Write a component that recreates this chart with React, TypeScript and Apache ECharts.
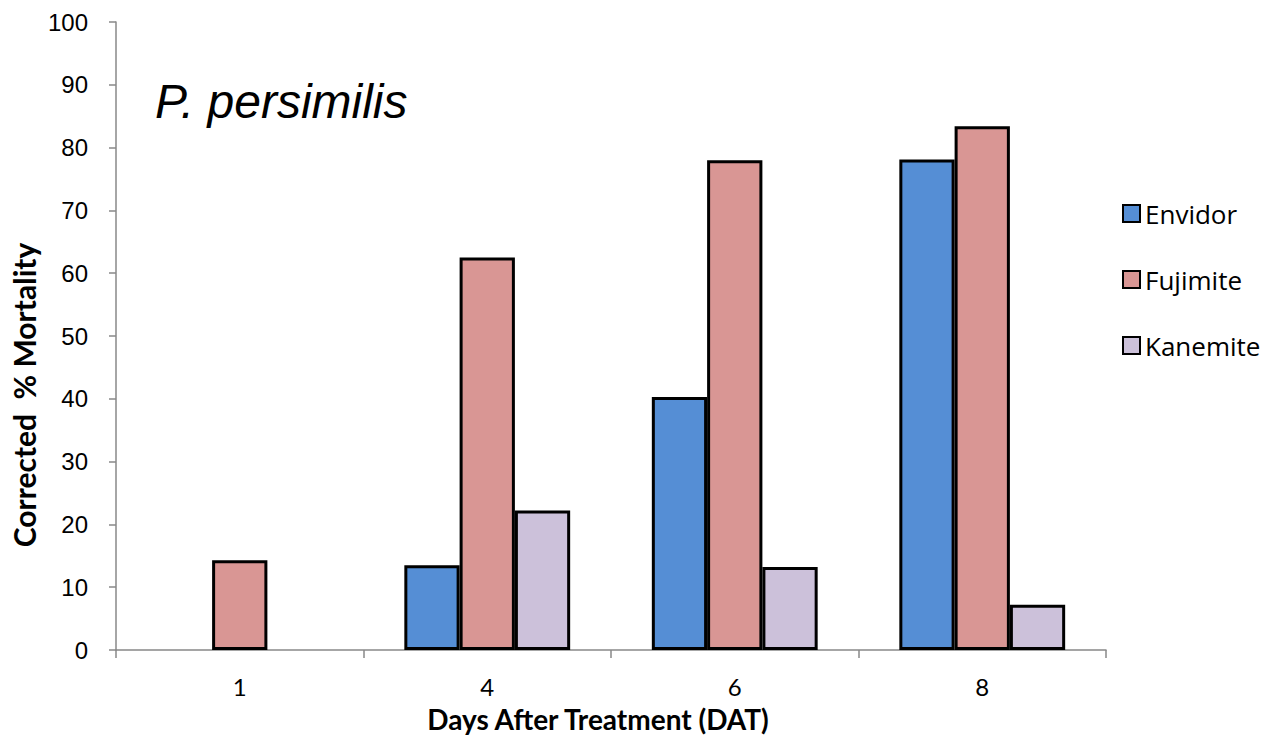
import React, { useEffect, useRef } from "react";
import * as echarts from "echarts";

const categories = ["1", "4", "6", "8"];
const envidor = [0, 13.5, 40.3, 78.1];
const fujimite = [14.3, 62.5, 78.0, 83.4];
const kanemite = [0, 22.2, 13.2, 7.2];
const seriesNames = ["Envidor", "Fujimite", "Kanemite"];
const seriesColors = ["#558ED5", "#D99694", "#CCC1DA"];
const yTicks = { min: 0, max: 100, interval: 10 };

const toData = (arr: number[]) => arr.map((v) => (v === 0 ? "-" : v));

export default function App() {
  const ref = useRef<HTMLDivElement>(null);
  useEffect(() => {
    document.body.style.margin = "0";
    if (!ref.current) return;
    const chart = echarts.init(ref.current, undefined, { renderer: "svg" });
    const values = [envidor, fujimite, kanemite];
    chart.setOption({
      animation: false,
      grid: { left: 116, right: 168, top: 22, bottom: 85, containLabel: false },
      legend: {
        orient: "vertical",
        left: 1117,
        top: 195,
        itemWidth: 17,
        itemHeight: 17,
        itemGap: 39,
        icon: "rect",
        data: seriesNames,
        textStyle: { fontFamily: "Open Sans", fontSize: 26, color: "#000", lineHeight: 27 },
      },
      xAxis: {
        type: "category",
        data: categories,
        axisLine: { lineStyle: { color: "#888", width: 1.5 } },
        axisTick: { show: true, length: 8, lineStyle: { color: "#888", width: 1.5 } },
        axisLabel: { fontFamily: "Lato", fontSize: 24, lineHeight: 22, color: "#000", margin: 25 },
      },
      yAxis: {
        type: "value",
        min: yTicks.min,
        max: yTicks.max,
        interval: yTicks.interval,
        splitLine: { show: false },
        axisLine: { show: true, lineStyle: { color: "#888", width: 1.5 } },
        axisTick: { show: true, length: 7, lineStyle: { color: "#888", width: 1.5 } },
        axisLabel: { fontFamily: "Liberation Sans", fontSize: 24, color: "#000", margin: 28 },
      },
      graphic: [
        {
          type: "text",
          left: 155,
          top: 77,
          style: {
            text: "P. persimilis",
            font: "italic 48px 'Liberation Sans'",
            fill: "#000",
          },
        },
        {
          type: "text",
          x: 24,
          y: 395,
          rotation: Math.PI / 2,
          style: {
            text: "Corrected  % Mortality",
            font: "bold 30px Lato",
            fill: "#000",
            align: "center",
            verticalAlign: "middle",
          },
        },
        {
          type: "text",
          x: 598,
          y: 719,
          style: {
            text: "Days After Treatment (DAT)",
            font: "bold 28px Lato",
            lineHeight: 26,
            fill: "#000",
            align: "center",
            verticalAlign: "middle",
          },
        },
      ],
      series: seriesNames.map((name, i) => ({
        name,
        type: "bar",
        data: toData(values[i]),
        barGap: "0%",
        barCategoryGap: "33%",
        itemStyle: { color: seriesColors[i], borderColor: "#000", borderWidth: 3 },
      })),
    });
    return () => chart.dispose();
  }, []);
  return <div ref={ref} style={{ width: 1274, height: 735 }} />;
}
